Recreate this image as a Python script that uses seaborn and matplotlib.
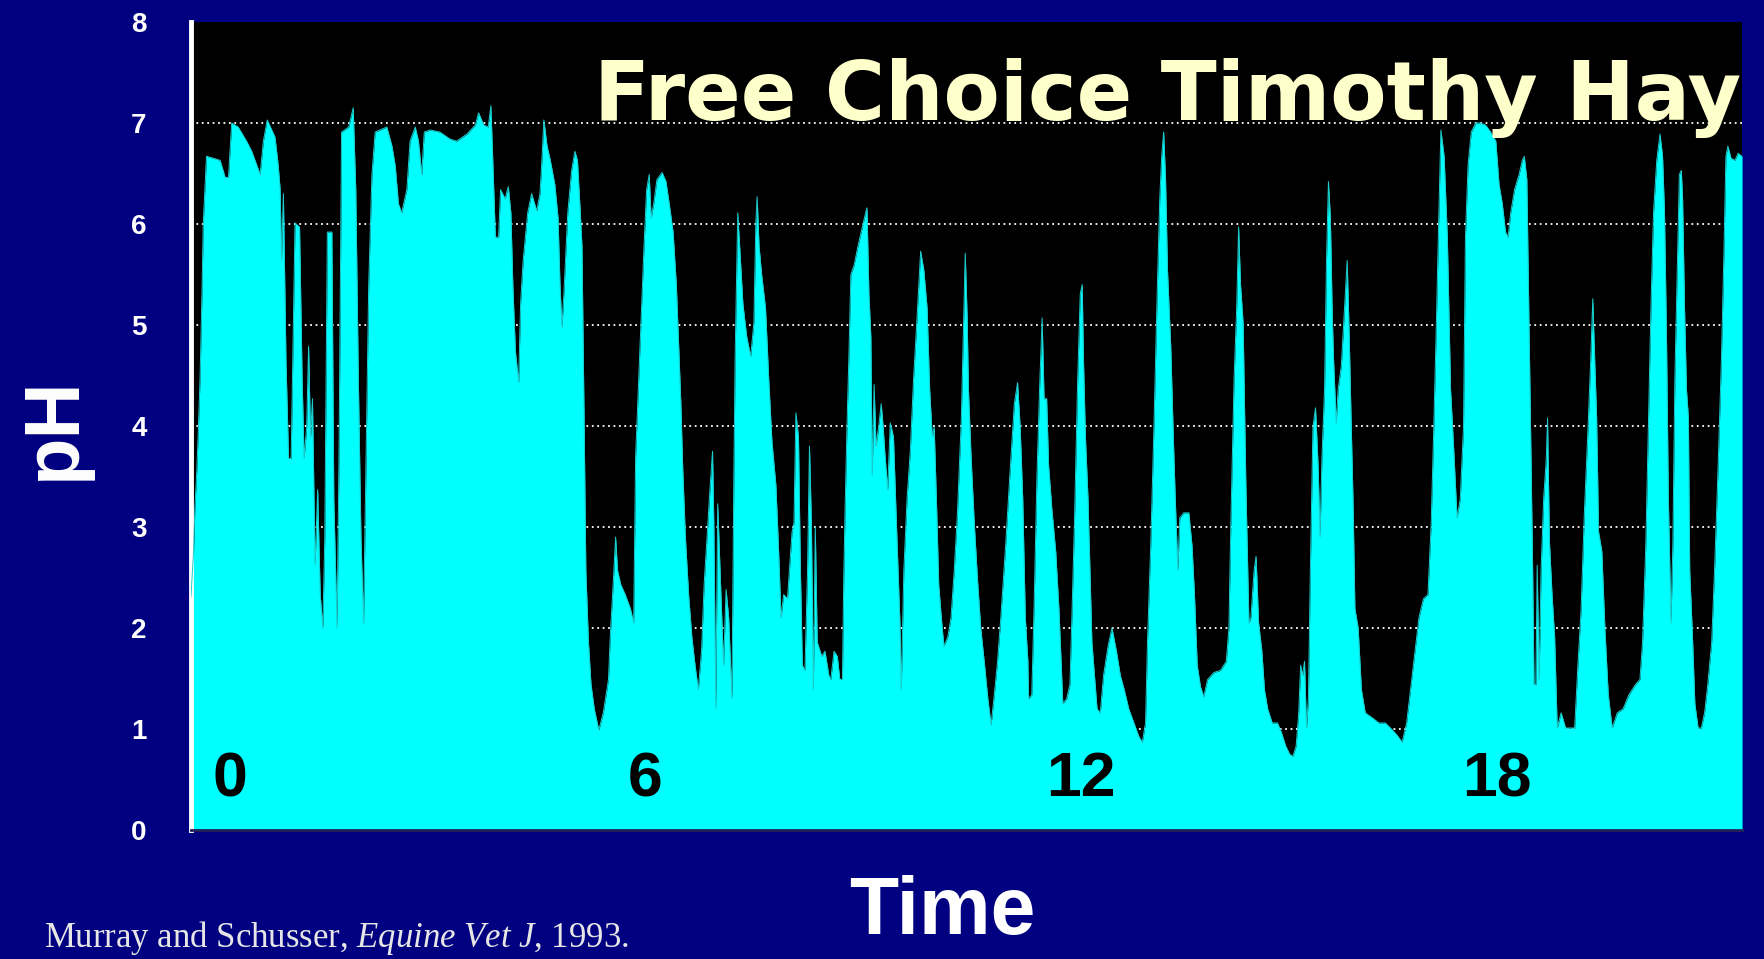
import matplotlib
matplotlib.use("Agg")
import matplotlib.pyplot as plt
import seaborn as sns

# pH trace (hours since start, pH)
hours = [
    0.00, 0.04, 0.06, 0.09, 0.11, 0.14, 0.17, 0.19, 0.24, 0.35, 0.45, 0.53, 0.58, 0.63, 0.73, 0.86, 0.94, 1.02,
    1.07, 1.12, 1.18, 1.23, 1.30, 1.35, 1.38, 1.40, 1.43, 1.47, 1.51, 1.55, 1.61, 1.68, 1.72, 1.75, 1.79, 1.82,
    1.85, 1.88, 1.92, 1.96, 2.00, 2.04, 2.07, 2.11, 2.18, 2.21, 2.26, 2.29, 2.33, 2.44, 2.51, 2.55, 2.59, 2.63,
    2.67, 2.70, 2.75, 2.80, 2.85, 3.03, 3.11, 3.16, 3.21,
    3.26, 3.34, 3.39, 3.47, 3.52, 3.57, 3.61, 3.70, 3.85, 4.01, 4.11, 4.27, 4.40, 4.45, 4.53, 4.60, 4.64, 4.67,
    4.71, 4.76, 4.79, 4.86, 4.91, 4.95, 4.98, 5.02, 5.07, 5.10, 5.14, 5.21, 5.27, 5.35, 5.40, 5.43, 5.46, 5.51,
    5.56, 5.63, 5.68, 5.71, 5.74, 5.77, 5.83, 5.89, 5.94, 5.98, 6.02, 6.05, 6.08, 6.11, 6.15, 6.19, 6.24, 6.31,
    6.38, 6.46,
    6.49, 6.54, 6.57, 6.60, 6.65, 6.72, 6.80, 6.85, 6.88, 6.93, 6.98, 7.01, 7.05, 7.09, 7.12, 7.16, 7.21, 7.29,
    7.35, 7.40, 7.46, 7.51, 7.55, 7.58, 7.61, 7.65, 7.70, 7.75, 7.80, 7.85, 7.90, 7.94, 7.99, 8.03, 8.07, 8.09,
    8.12, 8.15, 8.20, 8.24, 8.28, 8.32, 8.37, 8.40, 8.42, 8.46, 8.49, 8.54, 8.60, 8.66, 8.71, 8.74, 8.76, 8.79,
    8.83, 8.89, 8.94, 8.99, 9.05, 9.09, 9.13, 9.17, 9.23, 9.30, 9.33, 9.36, 9.40, 9.43, 9.46, 9.50, 9.54, 9.57,
    9.60, 9.63,
    9.66, 9.69, 9.71, 9.76, 9.81, 9.87, 9.90, 9.95, 10.00, 10.04, 10.08, 10.10, 10.12, 10.15, 10.18, 10.21,
    10.26, 10.32, 10.37, 10.42, 10.46, 10.49, 10.52, 10.54, 10.57, 10.60, 10.64, 10.68, 10.71, 10.74, 10.78,
    10.82, 10.87, 10.92, 10.97, 10.99, 11.03, 11.08, 11.13, 11.18, 11.23, 11.29, 11.34, 11.39, 11.43, 11.47,
    11.50, 11.54, 11.57, 11.61, 11.65, 11.71, 11.76, 11.81, 11.86, 11.92, 11.96, 11.98, 12.01, 12.03, 12.07,
    12.12, 12.17, 12.22, 12.28, 12.33, 12.38, 12.43, 12.48, 12.53, 12.60, 12.67, 12.74, 12.79, 12.83, 12.87,
    12.91, 12.95,
    12.96, 13.01, 13.05, 13.09, 13.13, 13.17, 13.20, 13.24, 13.27, 13.32, 13.38, 13.43, 13.46, 13.49, 13.55,
    13.60, 13.63, 13.67, 13.72, 13.76, 13.79, 13.81, 13.84, 13.88, 13.91, 13.94, 13.98, 14.02, 14.07, 14.12,
    14.19, 14.25, 14.32, 14.38, 14.44, 14.51, 14.59, 14.67, 14.72, 14.77, 14.80, 14.85, 14.90, 14.95, 14.99,
    15.02, 15.05, 15.08, 15.11, 15.16, 15.20, 15.23, 15.27, 15.30, 15.36, 15.44, 15.49, 15.53, 15.57, 15.62,
    15.67, 15.73, 15.83, 15.93, 16.02, 16.06, 16.09, 16.14, 16.18, 16.21,
    16.24, 16.28, 16.32, 16.34, 16.37, 16.40, 16.45, 16.48, 16.52, 16.57, 16.61, 16.66, 16.73, 16.81, 16.87,
    16.94, 17.00, 17.05, 17.10, 17.14, 17.17, 17.20, 17.23, 17.26, 17.29, 17.32, 17.36, 17.40, 17.44, 17.47,
    17.50, 17.54, 17.57, 17.60, 17.63, 17.66, 17.68, 17.72, 17.75, 17.80, 17.85, 17.89, 17.92, 17.95, 17.98,
    18.01, 18.06, 18.11, 18.17, 18.28, 18.38, 18.48, 18.59, 18.66, 18.74, 18.81, 18.87, 18.93, 19.00, 19.07,
    19.14, 19.19, 19.23, 19.27, 19.30, 19.34, 19.39, 19.44,
    19.49, 19.54, 19.59, 19.64, 19.69, 19.72, 19.76, 19.81, 19.88, 19.95, 20.03, 20.11, 20.19, 20.24, 20.29,
    20.34, 20.38, 20.42, 20.48, 20.55, 20.60, 20.63, 20.67, 20.70, 20.73, 20.76, 20.78, 20.81, 20.83, 20.86,
    20.89, 20.93, 20.97, 20.99, 21.02, 21.06, 21.10, 21.14, 21.20, 21.27, 21.35, 21.41, 21.46, 21.51, 21.56,
    21.62, 21.66, 21.69, 21.72, 21.75, 21.78, 21.83, 21.88, 21.93, 21.99, 22.07, 22.16, 22.25, 22.35, 22.42,
    22.46, 22.51, 22.55, 22.59, 22.63, 22.68, 22.73, 22.77, 22.80, 22.83, 22.86, 22.90, 22.93, 22.96, 23.00,
    23.03, 23.06, 23.08, 23.11, 23.14, 23.17, 23.19, 23.23, 23.27, 23.32, 23.37, 23.42, 23.47, 23.53, 23.58,
    23.63, 23.68, 23.72, 23.75, 23.78, 23.83, 23.89, 23.94, 24.00,
]
ph = [
    2.31, 2.76, 3.18, 3.56, 3.89, 4.46, 5.31, 6.01, 6.67, 6.65, 6.63, 6.46, 6.46, 7.00, 6.96, 6.82, 6.72, 6.58,
    6.49, 6.82, 7.03, 6.96, 6.86, 6.58, 6.34, 5.64, 6.30, 4.65, 3.68, 3.68, 6.01, 5.97, 4.46, 3.68, 3.99, 4.79,
    3.89, 4.27, 2.62, 3.37, 2.33, 2.00, 2.88, 5.92, 5.92, 3.28, 2.00, 3.66, 6.91, 6.96, 7.15, 6.34, 4.46, 2.90,
    2.05, 3.28, 5.40, 6.49, 6.91, 6.96, 6.77, 6.58, 6.20,
    6.11, 6.34, 6.82, 6.96, 6.82, 6.49, 6.91, 6.93, 6.91, 6.84, 6.82, 6.89, 6.98, 7.10, 6.98, 6.96, 7.17, 6.63,
    5.87, 5.87, 6.34, 6.25, 6.37, 6.11, 5.40, 4.74, 4.43, 5.21, 5.64, 6.11, 6.30, 6.13, 6.30, 6.63, 7.03, 6.77,
    6.63, 6.39, 6.06, 5.40, 4.98, 5.31, 6.11, 6.53, 6.72, 6.63, 6.16, 5.78, 4.22, 2.57, 1.86, 1.44, 1.20, 0.99,
    1.16, 1.49,
    1.95, 2.52, 2.90, 2.57, 2.43, 2.33, 2.19, 2.05, 3.70, 4.50, 5.31, 5.78, 6.34, 6.49, 6.06, 6.20, 6.44, 6.51,
    6.42, 6.20, 5.92, 5.40, 4.74, 4.22, 3.56, 2.90, 2.33, 1.91, 1.63, 1.39, 1.77, 2.43, 2.95, 3.37, 3.75, 3.04,
    1.20, 3.23, 2.33, 1.63, 2.38, 2.10, 1.30, 3.51, 4.69, 6.11, 5.78, 5.21, 4.88, 4.69, 5.02, 6.01, 6.27, 5.78,
    5.50, 5.17, 4.46, 3.84, 3.42, 2.81, 2.10, 2.33, 2.29, 2.95, 3.04, 4.13, 3.89, 2.57, 1.63, 1.58, 2.57, 3.80,
    3.04, 1.39,
    3.00, 1.86, 1.82, 1.72, 1.77, 1.53, 1.49, 1.77, 1.72, 1.49, 1.49, 2.48, 3.14, 3.99, 4.69, 5.50,
    5.59, 5.78, 5.92, 6.06, 6.16, 5.31, 4.88, 3.51, 4.41, 3.80, 3.99, 4.22, 3.99, 3.70, 3.37,
    4.03, 3.89, 2.95, 2.05, 1.39, 2.57, 3.28, 3.75, 4.46, 5.02, 5.73, 5.54, 5.17, 4.36, 3.89,
    3.99, 3.14, 2.43, 2.10, 1.82, 1.91, 2.10, 2.57, 3.14, 4.08, 5.17, 5.71, 5.07, 4.36, 3.70,
    3.04, 2.48, 2.00, 1.63, 1.30, 1.04, 1.34, 1.67, 2.10, 2.76, 3.51, 4.22, 4.43, 3.99, 3.28,
    2.10, 1.67,
    1.30, 1.34, 2.33, 3.51, 4.36, 5.07, 4.27, 4.27, 3.61, 3.18, 2.76, 2.19, 1.72, 1.25, 1.30,
    1.44, 2.10, 3.04, 4.46, 5.31, 5.40, 4.65, 3.89, 3.28, 2.57, 1.86, 1.53, 1.20, 1.16, 1.53,
    1.82, 2.00, 1.77, 1.53, 1.39, 1.20, 1.06, 0.92, 0.87, 1.06, 1.86, 2.81, 3.99, 5.31, 6.25,
    6.67, 6.91, 6.44, 5.54, 4.79, 3.89, 3.28, 2.57, 3.09, 3.14, 3.14, 2.81, 2.29, 1.63, 1.42,
    1.32, 1.49, 1.56, 1.58, 1.67, 2.00, 3.04, 4.46, 5.17, 5.97,
    5.40, 5.02, 3.51, 2.90, 2.05, 2.10, 2.57, 2.71, 2.05, 1.77, 1.39, 1.20, 1.06, 1.06, 0.97,
    0.83, 0.75, 0.73, 0.83, 1.16, 1.63, 1.53, 1.67, 1.01, 1.30, 2.57, 3.99, 4.18, 3.61, 2.90,
    3.70, 4.36, 5.64, 6.42, 6.06, 5.07, 4.65, 4.03, 4.36, 4.60, 5.17, 5.64, 4.93, 4.08, 3.28,
    2.19, 2.00, 1.39, 1.16, 1.11, 1.06, 1.06, 0.99, 0.94, 0.87, 1.06, 1.39, 1.72, 2.10, 2.29,
    2.33, 3.04, 3.99, 5.02, 5.87, 6.93, 6.67, 5.87,
    4.36, 3.75, 3.09, 3.28, 3.99, 5.87, 6.58, 6.91, 7.00, 7.00, 6.98, 6.91, 6.82, 6.39, 6.20,
    5.92, 5.87, 6.11, 6.34, 6.49, 6.63, 6.67, 6.44, 5.17, 3.89, 2.57, 1.44, 1.44, 2.62, 1.49,
    2.57, 3.28, 3.66, 4.08, 2.85, 2.33, 1.91, 1.01, 1.16, 1.01, 1.01, 1.01, 1.63, 2.19, 3.14,
    4.03, 4.69, 5.26, 4.65, 4.08, 2.95, 2.76, 1.96, 1.34, 1.01, 1.16, 1.20, 1.34, 1.44, 1.49,
    1.86, 2.81, 3.99, 5.17, 6.11, 6.63, 6.89, 6.67, 6.11, 4.93, 3.28, 2.05, 2.85, 4.46, 5.64,
    6.49, 6.53, 6.25, 5.17, 4.36, 4.08, 2.57, 1.96, 1.25, 1.01, 1.01, 1.16, 1.44, 1.86, 2.67,
    3.61, 4.65, 5.73, 6.67, 6.77, 6.65, 6.63, 6.70, 6.67,
]

hour_ticks = [0, 6, 12, 18, 24]
hour_labels = ["0", "6", "12", "18"]
hour_label_pos = [0.6, 7.03, 13.77, 20.2]
ph_ticks = list(range(9))
grid_levels = list(range(1, 8))

title = "Free Choice Timothy Hay"
citation = r"Murray and Schusser, $\it{Equine\ Vet\ J}$, 1993."

navy = "#000080"
cyan = "#00FFFF"

sns.set_style("dark")
plt.rcParams["font.family"] = ["Liberation Sans", "DejaVu Sans"]
plt.rcParams["mathtext.fontset"] = "custom"
plt.rcParams["mathtext.it"] = "Liberation Serif:italic"
plt.rcParams["mathtext.rm"] = "Liberation Serif"

fig = plt.figure(figsize=(17.65, 9.59), dpi=100, facecolor=navy)
ax = fig.add_axes([0.1082, 0.1345, 0.8788, 0.8426])
ax.set_facecolor("black")
ax.grid(False)

# dotted reference lines behind the trace (none at 8)
for level in grid_levels:
    ax.axhline(level, color="white", linestyle=(0, (1, 2)), linewidth=1.3, zorder=1)

ax.fill_between(hours, ph, 0, color=cyan, linewidth=0, zorder=2)
sns.lineplot(x=hours, y=ph, ax=ax, color="#1ccccc", linewidth=0.7,
             estimator=None, sort=False, legend=False, zorder=3)

ax.set_xlim(0, 24)
ax.set_ylim(0, 8)
ax.set_xticks(hour_ticks)
ax.set_xticklabels([])
ax.set_yticks(ph_ticks)
ax.set_yticklabels([str(v) for v in ph_ticks], color="white", fontsize=20, fontweight="bold")
ax.tick_params(axis="y", length=0, pad=32)
ax.tick_params(axis="x", colors="white", length=14, width=2, direction="out")
ax.set_xlabel("")
ax.set_ylabel("")

for side in ["top", "right"]:
    ax.spines[side].set_visible(False)
ax.spines["left"].set_color("white")
ax.spines["left"].set_linewidth(3.5)
ax.spines["bottom"].set_color("#22225a")
ax.spines["bottom"].set_linewidth(2)

# hour labels inside the plot
for lab, x in zip(hour_labels, hour_label_pos):
    ax.text(x, 0.5, lab, color="black", fontsize=45, fontweight="bold",
            ha="center", va="center", zorder=5)

ax.text(23.98, 7.03, title, color="#FFFFCC", fontsize=59, fontweight="bold",
        family="DejaVu Sans", ha="right", va="baseline", zorder=6)

fig.text(0.031, 0.554, "pH", color="white", fontsize=56, fontweight="bold",
         rotation=90, ha="center", va="center")
fig.text(0.534, 0.026, "Time", color="white", fontsize=58, fontweight="bold",
         ha="center", va="baseline")
fig.text(0.025, 0.012, citation, color="#e6e6e6", fontsize=25,
         family="Liberation Serif", ha="left", va="baseline")

fig.savefig("out.png", dpi=100, facecolor=navy)
plt.close(fig)
